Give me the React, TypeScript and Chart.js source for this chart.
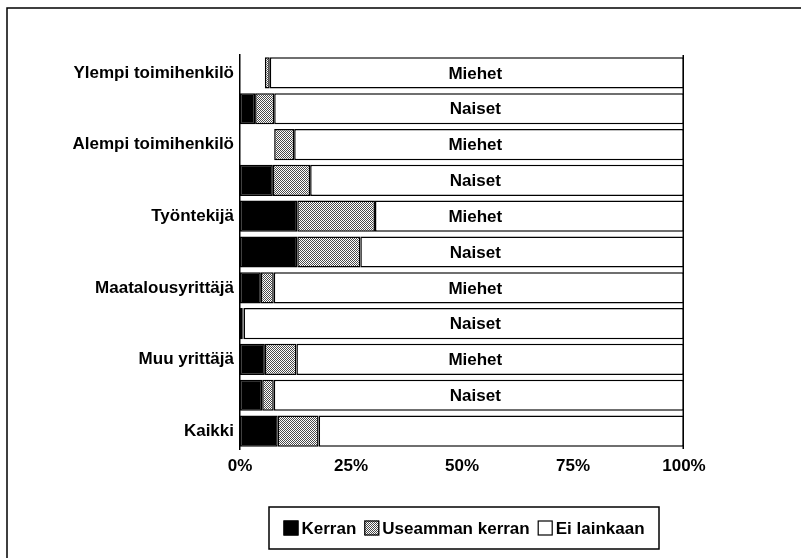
import React, { useEffect, useRef } from "react";
import { Chart, registerables } from "chart.js";

Chart.register(...registerables);

// ---- data ----
const categories = [
  "Ylempi toimihenkilö", "",
  "Alempi toimihenkilö", "",
  "Työntekijä", "",
  "Maatalousyrittäjä", "",
  "Muu yrittäjä", "",
  "Kaikki",
];
const groups = [
  "Miehet", "Naiset",
  "Miehet", "Naiset",
  "Miehet", "Naiset",
  "Miehet", "Naiset",
  "Miehet", "Naiset",
  "",
];
const seriesNames = ["Kerran", "Useamman kerran", "Ei lainkaan"];
const kerran = [5.6, 3.4, 7.7, 7.4, 12.9, 12.9, 4.7, 0.5, 5.6, 5.0, 8.5];
const useamman = [1.1, 4.3, 4.5, 8.4, 17.5, 14.2, 2.9, 0.3, 7.1, 2.6, 9.2];
const eiLainkaan = [93.3, 92.3, 87.8, 84.2, 69.6, 72.9, 92.4, 99.2, 87.3, 92.4, 82.3];
const xTickValues = [0, 25, 50, 75, 100];
// rows where the black segment did not print in the original
const kerranBlank = [true, false, true, false, false, false, false, false, false, false, false];

const FONT = "'Liberation Sans', Arial, Helvetica, sans-serif";
const INNER_LABEL_AT = 53;

function makeStipple(ctx: CanvasRenderingContext2D): CanvasPattern | string {
  const c = document.createElement("canvas");
  c.width = 2;
  c.height = 2;
  const g = c.getContext("2d");
  if (!g) return "#999";
  g.fillStyle = "#fff";
  g.fillRect(0, 0, 2, 2);
  g.fillStyle = "#4a4a4a";
  g.fillRect(0, 0, 1, 1);
  g.fillRect(1, 1, 1, 1);
  return ctx.createPattern(c, "repeat") || "#999";
}

export default function App() {
  const ref = useRef<HTMLCanvasElement | null>(null);

  useEffect(() => {
    const canvas = ref.current;
    if (!canvas) return;
    const ctx0 = canvas.getContext("2d") as CanvasRenderingContext2D;
    const stipple = makeStipple(ctx0);
    const legendFills: any[] = ["#000", stipple, "#fff"];

    const framePlugin = {
      id: "frameAndLabels",
      beforeDraw(chart: any) {
        const ctx = chart.ctx;
        ctx.save();
        ctx.fillStyle = "#fff";
        ctx.fillRect(0, 0, chart.width, chart.height);
        ctx.strokeStyle = "#000";
        ctx.lineWidth = 1.5;
        ctx.beginPath();
        ctx.moveTo(chart.width, 8);
        ctx.lineTo(7, 8);
        ctx.lineTo(7, chart.height);
        ctx.stroke();
        ctx.restore();
      },
      afterDatasetsDraw(chart: any) {
        const ctx = chart.ctx;
        const area = chart.chartArea;
        ctx.save();
        // right edge of plot
        ctx.strokeStyle = "#000";
        ctx.lineWidth = 1.5;
        ctx.beginPath();
        ctx.moveTo(area.right - 0.75, area.top);
        ctx.lineTo(area.right - 0.75, area.bottom);
        ctx.stroke();
        // inner group labels
        const xs = chart.scales.x;
        const meta = chart.getDatasetMeta(2);
        ctx.fillStyle = "#000";
        ctx.font = "bold 17px " + FONT;
        ctx.textAlign = "center";
        ctx.textBaseline = "middle";
        groups.forEach((g, i) => {
          if (!g) return;
          const el = meta.data[i];
          ctx.fillText(g, xs.getPixelForValue(INNER_LABEL_AT), el.y + 1);
        });
        ctx.restore();
      },
      afterDraw(chart: any) {
        const ctx = chart.ctx;
        ctx.save();
        ctx.font = "bold 17px " + FONT;
        const box = 15;
        const gapBoxText = 3;
        const gapItems = 8;
        const widths = seriesNames.map((n) => ctx.measureText(n).width);
        const total = widths.reduce((a, w) => a + box + gapBoxText + w, 0) + gapItems * (seriesNames.length - 1);
        const frameL = 269, frameR = 659, frameT = 507, frameB = 549;
        ctx.strokeStyle = "#000";
        ctx.lineWidth = 1.5;
        ctx.strokeRect(frameL, frameT, frameR - frameL, frameB - frameT);
        let x = (frameL + frameR) / 2 - total / 2;
        const yMid = (frameT + frameB) / 2;
        ctx.textBaseline = "middle";
        ctx.textAlign = "left";
        seriesNames.forEach((n, i) => {
          ctx.fillStyle = legendFills[i];
          ctx.fillRect(x, yMid - box / 2, box, box);
          ctx.lineWidth = 1.2;
          ctx.strokeRect(x + 0.5, yMid - box / 2 + 0.5, box - 1, box - 1);
          ctx.fillStyle = "#000";
          ctx.fillText(n, x + box + gapBoxText, yMid + 1);
          x += box + gapBoxText + widths[i] + gapItems;
        });
        ctx.restore();
      },
    };

    const chart = new Chart(canvas, {
      type: "bar",
      data: {
        labels: categories,
        datasets: [
          {
            label: seriesNames[0],
            data: kerran,
            backgroundColor: kerranBlank.map((b) => (b ? "rgba(0,0,0,0)" : "#000")),
            borderColor: kerranBlank.map((b) => (b ? "rgba(0,0,0,0)" : "#000")),
            borderWidth: 1.5,
            borderSkipped: false,
          },
          {
            label: seriesNames[1],
            data: useamman,
            backgroundColor: stipple as any,
            borderColor: "#000",
            borderWidth: 1.5,
            borderSkipped: false,
          },
          {
            label: seriesNames[2],
            data: eiLainkaan,
            backgroundColor: "#fff",
            borderColor: "#000",
            borderWidth: 1.5,
            borderSkipped: false,
          },
        ],
      },
      options: {
        indexAxis: "y",
        responsive: false,
        animation: false,
        events: [],
        datasets: { bar: { barPercentage: 0.87, categoryPercentage: 1 } },
        layout: { padding: { top: 55, right: 117, left: 0, bottom: 0 } },
        plugins: { legend: { display: false }, tooltip: { enabled: false }, title: { display: false } },
        scales: {
          x: {
            type: "linear",
            stacked: true,
            min: 0,
            max: 100,
            grid: { display: false, drawTicks: false },
            border: { display: false },
            afterFit(scale: any) {
              scale.height = 109;
            },
            afterBuildTicks(scale: any) {
              scale.ticks = xTickValues.map((v) => ({ value: v }));
            },
            ticks: {
              padding: 7,
              color: "#000",
              font: { family: FONT, size: 17, weight: "bold" },
              maxRotation: 0,
              callback: (v: any) => v + "%",
            },
          },
          y: {
            type: "category",
            stacked: true,
            grid: { display: false, drawTicks: false },
            border: { display: true, color: "#000", width: 1.5 },
            afterFit(scale: any) {
              scale.width = 240;
            },
            ticks: {
              padding: 6,
              color: "#000",
              autoSkip: false,
              font: { family: FONT, size: 17, weight: "bold" },
            },
          },
        },
      },
      plugins: [framePlugin],
    });

    return () => chart.destroy();
  }, []);

  return (
    <div style={{ position: "fixed", left: 0, top: 0, width: 801, height: 558, background: "#fff" }}>
      <canvas ref={ref} width={801} height={558} style={{ display: "block" }} />
    </div>
  );
}
